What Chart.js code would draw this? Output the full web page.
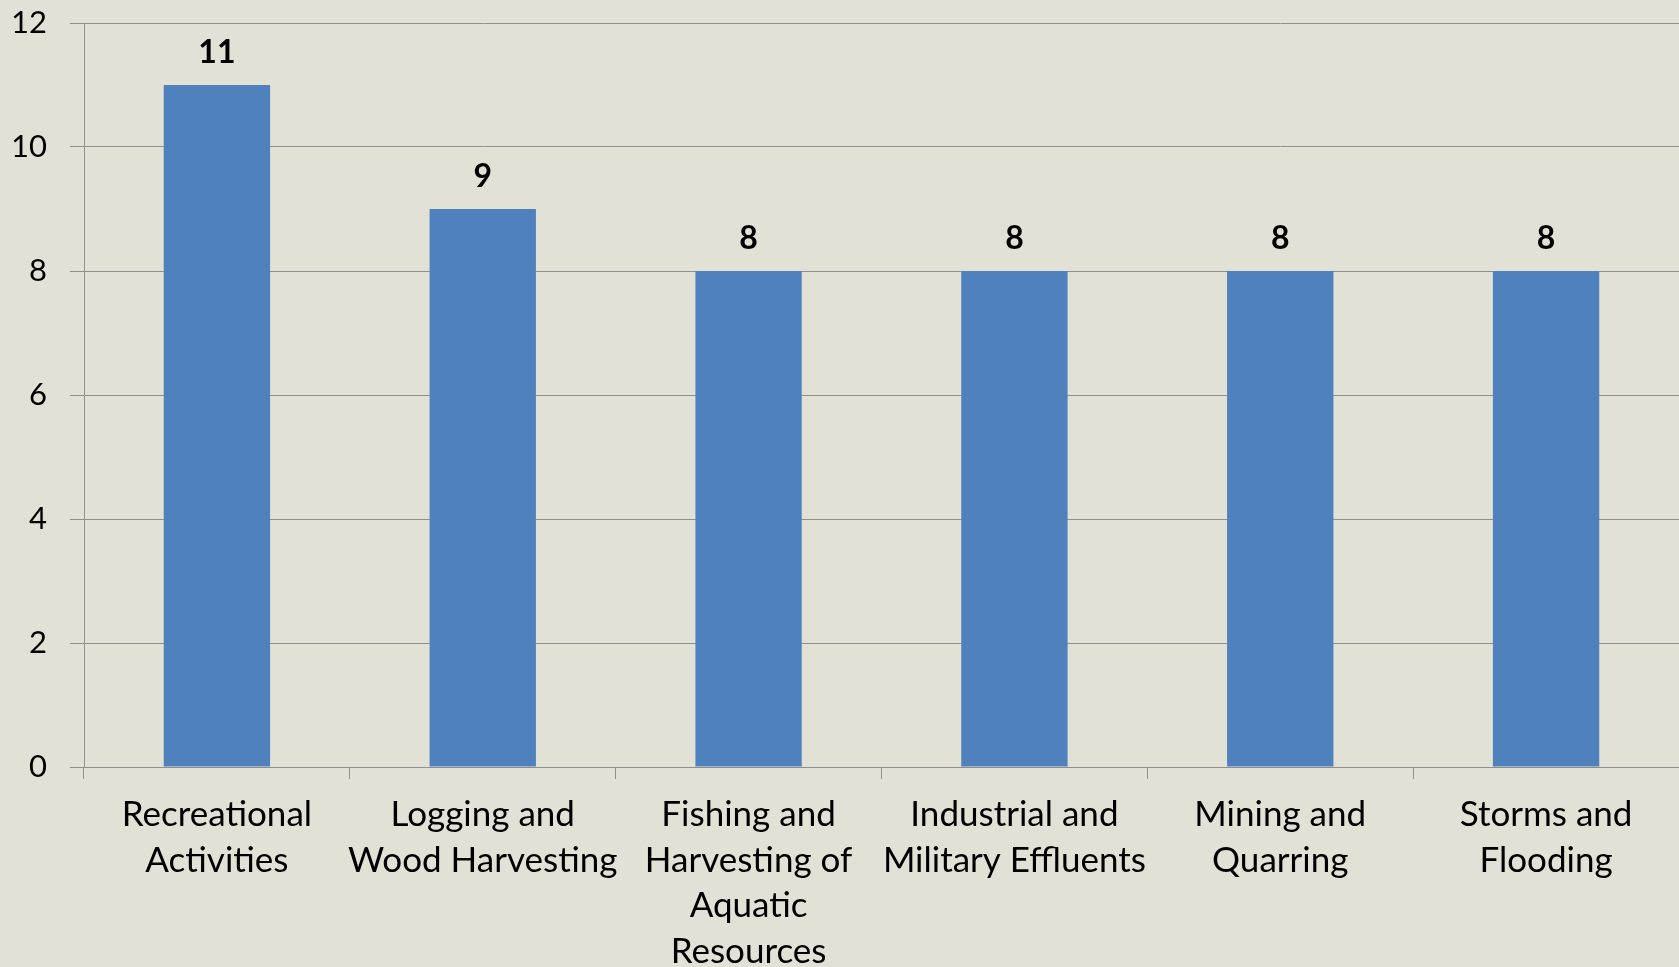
<!DOCTYPE html>
<html>
<head>
<meta charset="utf-8">
<script src="https://cdn.jsdelivr.net/npm/chart.js@4"></script>
<style>
  html, body { margin: 0; padding: 0; background: #e1e1d5; overflow: hidden; }
  #wrap { width: 1679px; height: 967px; }
</style>
</head>
<body>
<div id="wrap"><canvas id="chartThreats"></canvas></div>
<script>
var categories = [
  ['Recreational', 'Activities'],
  ['Logging and', 'Wood Harvesting'],
  ['Fishing and', 'Harvesting of', 'Aquatic', 'Resources'],
  ['Industrial and', 'Military Effluents'],
  ['Mining and', 'Quarring'],
  ['Storms and', 'Flooding']
];
var counts = [11, 9, 8, 8, 8, 8];
var yTicks = [0, 2, 4, 6, 8, 10, 12];

var FONT = 'Lato, "Open Sans", sans-serif';
var GRID = '#8f8f8f';

// bold value printed above each bar
var valueLabels = {
  id: 'valueLabels',
  afterDatasetsDraw: function(chart) {
    var ctx = chart.ctx;
    var meta = chart.getDatasetMeta(0);
    ctx.save();
    ctx.font = 'bold 32px ' + FONT;
    ctx.fillStyle = '#000';
    ctx.textAlign = 'center';
    ctx.textBaseline = 'alphabetic';
    meta.data.forEach(function(bar, i) {
      ctx.fillText(String(counts[i]), bar.x, bar.y - 22);
    });
    ctx.restore();
  }
};

var ctx = document.getElementById('chartThreats').getContext('2d');
var chartThreats = new Chart(ctx, {
  type: 'bar',
  data: {
    labels: categories,
    datasets: [{
      data: counts,
      backgroundColor: '#4f81bd',
      borderWidth: 0,
      barPercentage: 0.4,
      categoryPercentage: 1.0
    }]
  },
  options: {
    responsive: true,
    maintainAspectRatio: false,
    animation: false,
    layout: { padding: { top: 23, right: 0, bottom: 0, left: 0 } },
    plugins: {
      legend: { display: false },
      tooltip: { enabled: false }
    },
    scales: {
      x: {
        afterFit: function(scale) {
          scale.height = 200;
          scale.paddingLeft = 0;
          scale.paddingRight = 0;
        },
        grid: {
          offset: true,
          drawOnChartArea: false,
          drawTicks: true,
          tickLength: 12,
          color: GRID,
          lineWidth: 1
        },
        border: { display: true, color: GRID, width: 1 },
        ticks: {
          color: '#000',
          padding: 13,
          maxRotation: 0,
          autoSkip: false,
          font: { family: FONT, size: 35, lineHeight: 1.3 }
        }
      },
      y: {
        min: 0,
        max: 12,
        afterFit: function(scale) {
          scale.width = 84;
          scale.paddingTop = 0;
          scale.paddingBottom = 0;
        },
        afterBuildTicks: function(scale) {
          scale.ticks = yTicks.map(function(v) { return { value: v }; });
        },
        grid: {
          color: GRID,
          lineWidth: 1,
          drawTicks: true,
          tickLength: 14
        },
        border: { display: true, color: GRID, width: 1 },
        ticks: {
          color: '#000',
          padding: 23,
          font: { family: FONT, size: 31 }
        }
      }
    }
  },
  plugins: [valueLabels]
});
</script>
</body>
</html>
